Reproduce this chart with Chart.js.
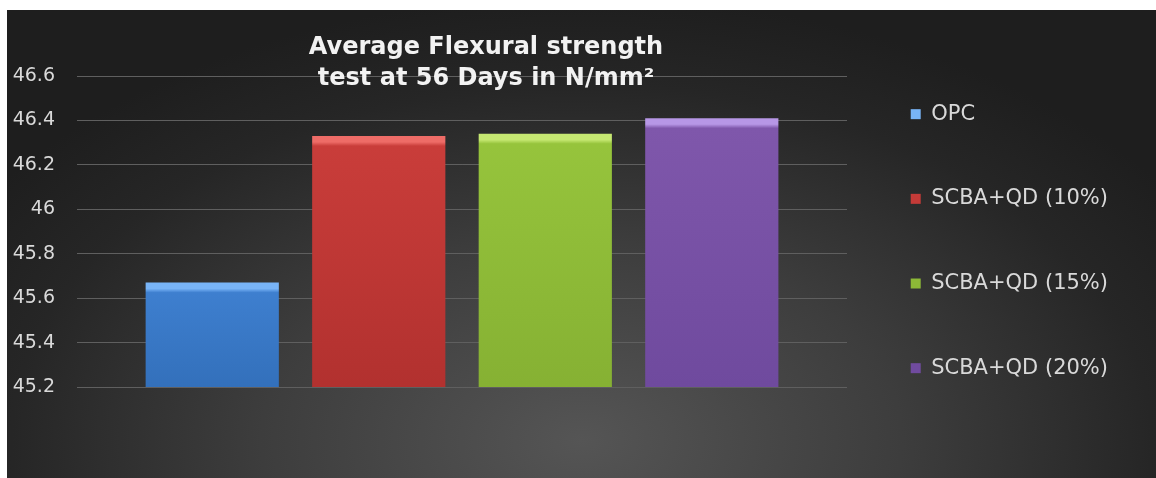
<!DOCTYPE html>
<html>
<head>
<meta charset="utf-8">
<script src="https://cdn.jsdelivr.net/npm/chart.js@4.4.1/dist/chart.umd.min.js"></script>
<style>
  html, body { margin: 0; padding: 0; background: #fff; }
  #pannello {
    position: absolute; left: 7px; top: 10px; width: 1149px; height: 468px;
    background: radial-gradient(ellipse 62% 95% at 50% 92%, #555 0%, #3d3d3d 45%, #262626 80%, #1e1e1e 100%);
  }
  #grafico { display: block; }
</style>
</head>
<body>
<div id="pannello"><canvas id="grafico" width="1149" height="468"></canvas></div>
<script>
// dati
const categorie = [''];
const serie = ['OPC', 'SCBA+QD (10%)', 'SCBA+QD (15%)', 'SCBA+QD (20%)'];
const valori = [45.67, 46.33, 46.34, 46.41];
const etichetteY = ['45.2', '45.4', '45.6', '45.8', '46', '46.2', '46.4', '46.6'];

const colori = ['#3e7fcf', '#c93d3a', '#96c43c', '#7f57ab'];
const coloriLuce = ['#78b4f7', '#ee6c67', '#c6e872', '#b797e6'];
const coloriScuri = ['#3370bb', '#b2312f', '#86b133', '#6f4a9e'];

// margine sinistro negativo: serve solo a centrare il titolo sopra l'area dei dati
const margineSx = -153;
const inizioArea = 70;

// riempimento con bordo superiore smussato, come nel grafico Excel
function riempimento(i) {
  return function(c) {
    const chart = c.chart;
    const area = chart.chartArea;
    if (c.type !== 'data' || !area) return colori[i];
    const top = chart.scales.y.getPixelForValue(valori[i]);
    const h = area.bottom - top;
    if (h <= 12) return colori[i];
    const g = chart.ctx.createLinearGradient(0, top, 0, area.bottom);
    g.addColorStop(0, coloriLuce[i]);
    g.addColorStop(6 / h, coloriLuce[i]);
    g.addColorStop(10 / h, colori[i]);
    g.addColorStop(1, coloriScuri[i]);
    return g;
  };
}

const datasets = serie.map((nome, i) => ({
  label: nome,
  data: [valori[i]],
  backgroundColor: riempimento(i),
  borderWidth: 0
}));

const ctx = document.getElementById('grafico').getContext('2d');
const grafico = new Chart(ctx, {
  type: 'bar',
  data: {
    labels: categorie,
    datasets: datasets
  },
  options: {
    responsive: false,
    animation: false,
    layout: {
      padding: { left: margineSx, right: 38, top: 30, bottom: 6 }
    },
    datasets: {
      bar: {
        categoryPercentage: 0.865,
        barPercentage: 0.8
      }
    },
    plugins: {
      title: {
        display: true,
        text: ['Average Flexural strength', 'test at 56 Days in N/mm²'],
        color: '#f2f2f2',
        font: { family: 'DejaVu Sans', size: 24, weight: 'bold', lineHeight: 1.3 },
        padding: { top: -8, bottom: -18.4 }
      },
      legend: {
        position: 'right',
        align: 'start',
        labels: {
          color: '#d9d9d9',
          font: { family: 'DejaVu Sans', size: 21 },
          boxWidth: 10,
          boxHeight: 10,
          padding: 63.67
        }
      },
      tooltip: { enabled: false }
    },
    scales: {
      x: {
        display: true,
        border: { display: false },
        grid: { display: false },
        ticks: { display: false },
        afterFit: function(scale) {
          scale.height = 85;
        }
      },
      y: {
        min: 45.2,
        max: 46.6,
        border: { display: false },
        grid: {
          color: '#5f5f5f',
          lineWidth: 1,
          drawTicks: false
        },
        ticks: {
          stepSize: 0.2,
          padding: 22,
          color: '#d9d9d9',
          font: { family: 'DejaVu Sans', size: 19 },
          callback: function(v) {
            const k = Math.round((v - 45.2) / 0.2);
            return etichetteY[k];
          }
        },
        afterFit: function(scale) {
          scale.width = inizioArea - margineSx;
        }
      }
    }
  }
});
</script>
</body>
</html>
